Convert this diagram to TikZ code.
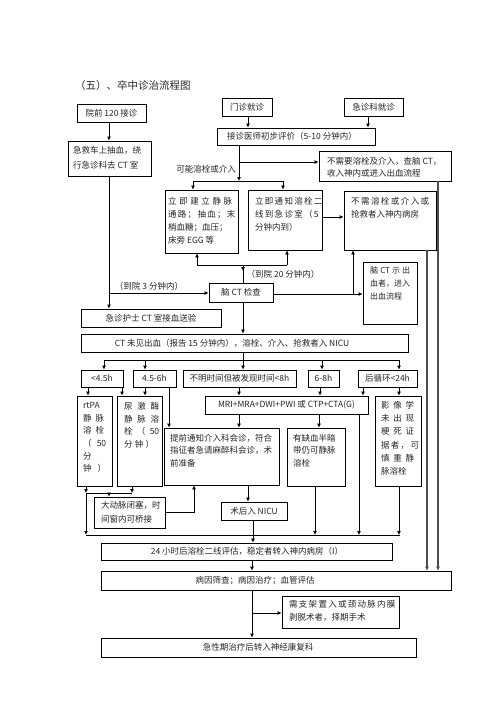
\documentclass[tikz,border=0pt]{standalone}
\usepackage{fontspec}
\setmainfont{Noto Sans CJK SC}
\usetikzlibrary{arrows.meta,fit,calc}
\newcommand\jl[2]{\makebox[#1pt][s]{#2}}
\newcommand\bx[5]{\node[box, fit={(#2,#3)(#4,#5)}] (#1) {};}
\begin{document}
\begin{tikzpicture}[x=1pt,y=-1pt,
  box/.style={draw, line width=0.8pt, inner sep=0pt},
  txt/.style={inner sep=0pt, font=\fontsize{8.5}{13}\selectfont, align=left, text=black!85},
  lbl/.style={inner sep=0pt, font=\fontsize{8.5}{13}\selectfont, text=black!85},
  ar/.style={-{Latex[length=4pt,width=4pt]}, line width=0.8pt},
  ln/.style={line width=0.8pt},
  rl/.style={line width=1.1pt, draw=black!70}]
\fill[white] (0,0) rectangle (496,702);
\useasboundingbox (0,0) rectangle (496,702);

% title
\node[lbl, font=\fontsize{10.5}{12}\selectfont, anchor=west] (title) at (75,86) {（五）、卒中诊治流程图};

% boxes
\bx{yq}{77}{104}{146}{122}
\bx{jj}{68}{141}{151}{176}
\bx{mz}{222}{98}{272}{116}
\bx{jz}{344}{98}{403}{116}
\bx{pj}{217}{128}{375}{145}
\bx{nb}{319}{151}{451}{181}
\bx{b1}{165}{190}{238}{253}
\bx{b2}{248}{190}{322}{250}
\bx{b3}{344}{191}{436}{250}
\bx{cx}{363}{262}{417}{324}
\bx{ct}{209}{283}{273}{302}
\bx{hs}{81}{309}{221}{327}
\bx{wj}{81}{334}{408}{352}
\bx{t1}{81}{370}{123}{387}
\bx{t2}{133}{370}{176}{387}
\bx{t3}{183}{370}{296}{387}
\bx{t4}{308}{370}{339}{387}
\bx{t5}{358}{370}{417}{387}
\bx{rt}{77}{396}{112}{486}
\bx{nj}{117}{396}{162}{486}
\bx{mri}{205}{396}{368}{414}
\bx{yx}{375}{396}{421}{486}
\bx{tq}{164}{428}{279}{485}
\bx{qx}{287}{428}{345}{486}
\bx{dd}{94}{497}{165}{528}
\bx{sh}{221}{502}{287}{520}
\bx{h24}{101}{543}{392}{560}
\bx{by}{101}{571}{451}{590}
\bx{zj}{282}{596}{399}{628}
\bx{jx}{101}{638}{416}{657}

% texts
\node[lbl] (yq-t) at (yq.center) {院前 120 接诊};
\node[txt, font=\fontsize{8.5}{15}\selectfont, anchor=west] (jj-t) at (73,158) {急救车上抽血，绕\\行急诊科去 CT 室};
\node[lbl] (mz-t) at (mz.center) {门诊就诊};
\node[lbl] (jz-t) at (jz.center) {急诊科就诊};
\node[lbl] (pj-t) at (292,136.5) {接诊医师初步评价（5-10 分钟内）};
\node[txt, font=\fontsize{8.5}{12}\selectfont, anchor=west] (nb-t) at (327,167) {不需要溶栓及介入，查脑 CT，\\收入神内或进入出血流程};
\node[lbl] (l1) at (206,169) {可能溶栓或介入};
\node[txt, anchor=north west] (b1-t) at (168,197) {\jl{64}{立 即 建 立 静 脉}\\\jl{64}{通 路 ； 抽 血 ； 末}\\梢血糖；血压；\\床旁 EGG 等};
\node[txt, anchor=north west] (b2-t) at (255,197) {\jl{62}{立 即 通 知 溶 栓 二}\\\jl{62}{线 到 急 诊 室 （ 5}\\分钟内到）};
\node[txt, anchor=north west] (b3-t) at (351,197) {\jl{78}{不 需 溶 栓 或 介 入 或}\\抢救者入神内病房};
\node[txt, font=\fontsize{8}{13}\selectfont, anchor=north west] (cx-t) at (370,267) {\jl{40}{脑 CT 示 出}\\血者，进入\\出血流程};
\node[lbl] (ct-t) at (ct.center) {脑 CT 检查};
\node[lbl] (hs-t) at (hs.center) {急诊护士 CT 室接血送验};
\node[lbl] (l2) at (149,286) {（到院 3 分钟内）};
\node[lbl] (l3) at (283,274) {（到院 20 分钟内）};
\node[lbl] (wj-t) at (232,343) {CT 未见出血（报告 15 分钟内），溶栓、介入、抢救者入 NICU};
\node[lbl] (t1-t) at (t1.center) {<4.5h};
\node[lbl] (t2-t) at (t2.center) {4.5-6h};
\node[lbl] (t3-t) at (t3.center) {不明时间但被发现时间<8h};
\node[lbl] (t4-t) at (t4.center) {6-8h};
\node[lbl] (t5-t) at (t5.center) {后循环<24h};
\node[txt, font=\fontsize{8.5}{12.7}\selectfont, anchor=north west] (rt-t) at (83,402) {rtPA\\\jl{21}{静 脉}\\\jl{21}{溶 栓}\\\jl{23}{（ 50}\\分\\\jl{23}{钟 ）}};
\node[txt, font=\fontsize{8.5}{12.7}\selectfont, anchor=north west] (nj-t) at (124,402) {\jl{35}{尿 激 酶}\\\jl{35}{静 脉 溶}\\\jl{35}{栓 （ 50}\\\jl{30}{分 钟 ）}};
\node[lbl] (mri-t) at (mri.center) {MRI+MRA+DWI+PWI 或 CTP+CTA(G)};
\node[txt, font=\fontsize{8.5}{13.2}\selectfont, anchor=north west] (yx-t) at (381,401) {\jl{33}{影 像 学}\\\jl{33}{未 出 现}\\\jl{33}{梗 死 证}\\\jl{34}{据 者 ， 可}\\\jl{33}{慎 重 静}\\脉溶栓};
\node[txt, font=\fontsize{8.5}{12.5}\selectfont, anchor=north west] (tq-t) at (170,434) {提前通知介入科会诊，符合\\指征者急请麻醉科会诊，术\\前准备};
\node[txt, font=\fontsize{8.5}{12.5}\selectfont, anchor=north west] (qx-t) at (293,434) {有缺血半暗\\带仍可静脉\\溶栓};
\node[txt, font=\fontsize{8.5}{14}\selectfont, anchor=north west] (dd-t) at (101,501) {大动脉闭塞，时\\间窗内可桥接};
\node[lbl] (sh-t) at (sh.center) {术后入 NICU};
\node[lbl] (h24-t) at (247,551.5) {24 小时后溶栓二线评估，稳定者转入神内病房（I）};
\node[lbl] (by-t) at (255,580.5) {病因筛查；病因治疗；血管评估};
\node[txt, anchor=north west] (zj-t) at (289,600) {\jl{103}{需 支 架 置 入 或 颈 动 脉 内 膜}\\剥脱术者，择期手术};
\node[lbl] (jx-t) at (258,647.5) {急性期治疗后转入神经康复科};

% connectors
\draw[ar] (109,0 |- yq.south) -- (109,0 |- jj.north);
\draw[ar] (109,0 |- jj.south) -- (109,0 |- hs.north);
\coordinate (j3) at (109,293);
\draw[ar] (j3) -- (j3 -| ct.west);
\draw[ar] (248,0 |- mz.south) -- (248,0 |- pj.north);
\draw[ar] (368,0 |- jz.south) -- (368,0 |- pj.north);
\coordinate (j6) at (239,181);
\coordinate (j6b) at (239,162);
\draw[ar] (239,0 |- pj.south) -- (j6);
\draw[ar] (j6b) -- (j6b -| nb.west);
\draw[ln] (193,181) -- (283,181);
\draw[ar] (193,181) -- (193,0 |- b1.north);
\draw[ar] (283,181) -- (283,0 |- b2.north);
\draw[ar] (b2.east |- 0,217) -- (b3.west |- 0,217);
\draw[ar, rl] (438,0 |- nb.south) -- (438,0 |- by.north);
\draw[ar, rl] (427,0 |- b3.south) -- (427,0 |- by.north);
\coordinate (j11) at (243,265);
\draw[ln] (243,0 |- ct.north) -- (j11);
\draw[ln] (197,265) -- (287,265);
\draw[ar] (197,265) -- (197,0 |- b1.south);
\draw[ar] (287,265) -- (287,0 |- b2.south);
\draw[ar] (j11) -- (243,271);
\coordinate (j12) at (353,294);
\draw[ar] (ct.east |- j12) -- (cx.west |- j12);
\draw[ar] (j12) -- (353,0 |- b3.south);
\draw[ar] (243,0 |- ct.south) -- (243,0 |- wj.north);
\draw[ln] (243,0 |- wj.south) -- (243,360);
\draw[ln] (104,360) -- (399,360);
\draw[ar] (104,360) -- (104,0 |- t1.north);
\draw[ar] (145,360) -- (145,0 |- t2.north);
\draw[ar] (243,360) -- (243,0 |- t3.north);
\draw[ar] (322,360) -- (322,0 |- t4.north);
\draw[ar] (399,360) -- (399,0 |- t5.north);
\draw[ar] (88,0 |- t1.south) -- (88,0 |- rt.north);
\draw[ar] (122,0 |- t1.south) -- (122,0 |- nj.north);
\draw[ar] (145,0 |- t2.south) -- (145,0 |- nj.north);
\draw[ar] (169,0 |- t2.south) -- (169,0 |- tq.north);
\draw[ar] (239,0 |- t3.south) -- (239,0 |- mri.north);
\draw[ar] (320,0 |- t4.south) -- (320,0 |- mri.north);
\draw[ar] (363,0 |- t5.south) -- (363,0 |- mri.north);
\draw[ar] (399,0 |- t5.south) -- (399,0 |- yx.north);
\draw[ar] (239,0 |- mri.south) -- (239,0 |- tq.north);
\draw[ar] (319,0 |- mri.south) -- (319,0 |- qx.north);
\draw[ar] (359,0 |- mri.south) -- (359,535);
\draw[ar] (248,0 |- tq.south) -- (248,0 |- sh.north);
\draw[ar] (253,0 |- sh.south) -- (253,0 |- h24.north);
\draw[ar] (315,0 |- qx.south) -- (315,535);
\draw[ar] (399,0 |- yx.south) -- (399,535);
\draw[ln] (86,535) -- (400,535);
\draw[ar] (86,0 |- rt.south) -- (86,493);
\draw[ar] (132,0 |- nj.south) -- (132,493);
\draw[ln] (86,493) -- (132,493);
\draw[ar] (109,493) -- (109,0 |- dd.north);
\draw[ar] (86,493) -- (86,535);
\draw[ar] (dd.east |- 0,512) -- (194,512) -- (194,0 |- tq.south);
\draw[ar] (252,0 |- h24.south) -- (252,0 |- by.north);
\draw[ar] (252,0 |- by.south) -- (252,0 |- jx.north);
\coordinate (j27) at (252,613);
\draw[ar] (j27) -- (j27 -| zj.west);
\end{tikzpicture}
\end{document}
